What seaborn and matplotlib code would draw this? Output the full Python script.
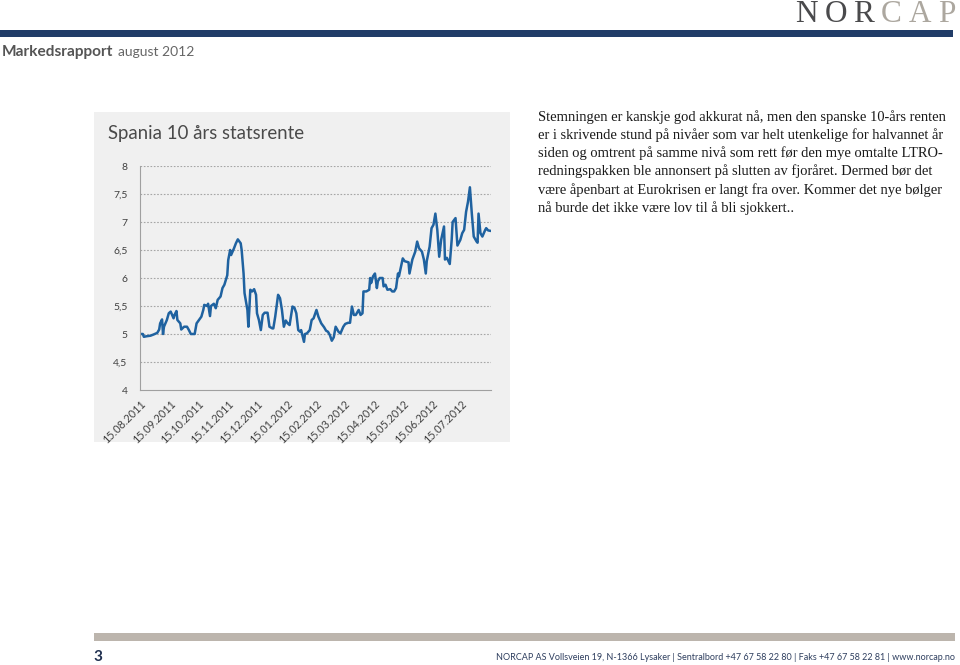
import matplotlib
matplotlib.use("Agg")
import matplotlib.pyplot as plt
from matplotlib.patches import Rectangle
from matplotlib import font_manager
import pandas as pd
import seaborn as sns

# ---------------- data ----------------
dates = ["2011-08-15","2011-08-18","2011-08-19","2011-08-22","2011-08-26","2011-08-29","2011-09-02","2011-09-04","2011-09-05","2011-09-07",
"2011-09-08","2011-09-09","2011-09-12","2011-09-14","2011-09-16","2011-09-19","2011-09-20","2011-09-22","2011-09-23","2011-09-26",
"2011-09-27","2011-09-30","2011-10-03","2011-10-05","2011-10-07","2011-10-11","2011-10-13","2011-10-16","2011-10-18","2011-10-20",
"2011-10-21","2011-10-24","2011-10-25","2011-10-27","2011-10-28","2011-10-31","2011-11-02","2011-11-04","2011-11-07","2011-11-09",
"2011-11-11","2011-11-14","2011-11-15","2011-11-17","2011-11-18","2011-11-21","2011-11-23","2011-11-25","2011-11-28","2011-11-29",
"2011-12-01","2011-12-02","2011-12-05","2011-12-06","2011-12-07","2011-12-08","2011-12-10","2011-12-12","2011-12-14","2011-12-15",
"2011-12-17","2011-12-19","2011-12-21","2011-12-23","2011-12-26","2011-12-28","2011-12-31","2012-01-01","2012-01-03","2012-01-06",
"2012-01-08","2012-01-10","2012-01-12","2012-01-14","2012-01-16","2012-01-18","2012-01-21","2012-01-23","2012-01-25","2012-01-27",
"2012-01-29","2012-01-30","2012-02-02","2012-02-03","2012-02-05","2012-02-08","2012-02-10","2012-02-12","2012-02-15","2012-02-17",
"2012-02-20","2012-02-23","2012-02-25","2012-02-27","2012-02-29","2012-03-02","2012-03-04","2012-03-06","2012-03-09","2012-03-11",
"2012-03-14","2012-03-16","2012-03-19","2012-03-21","2012-03-23","2012-03-25","2012-03-27","2012-03-30","2012-04-01","2012-04-03",
"2012-04-04","2012-04-07","2012-04-10","2012-04-11","2012-04-12","2012-04-14","2012-04-16","2012-04-18","2012-04-19","2012-04-21",
"2012-04-24","2012-04-25","2012-04-27","2012-04-29","2012-05-02","2012-05-04","2012-05-06","2012-05-08","2012-05-10","2012-05-11",
"2012-05-15","2012-05-17","2012-05-21","2012-05-22","2012-05-25","2012-05-28","2012-05-30","2012-06-01","2012-06-04","2012-06-06",
"2012-06-08","2012-06-09","2012-06-12","2012-06-14","2012-06-16","2012-06-18","2012-06-20","2012-06-22","2012-06-24","2012-06-27",
"2012-06-28","2012-06-30","2012-07-03","2012-07-05","2012-07-06","2012-07-09","2012-07-11","2012-07-14","2012-07-16","2012-07-18",
"2012-07-20","2012-07-22","2012-07-24","2012-07-26","2012-07-28","2012-07-31","2012-08-01","2012-08-02","2012-08-04","2012-08-06",
"2012-08-09","2012-08-10","2012-08-12","2012-08-15"]

rente = [5.00,5.00,4.95,4.96,4.97,4.99,5.02,5.08,5.19,5.26,
5.00,5.13,5.25,5.37,5.40,5.28,5.34,5.41,5.25,5.19,
5.08,5.13,5.13,5.07,5.00,5.00,5.19,5.26,5.31,5.43,
5.52,5.50,5.54,5.32,5.50,5.54,5.46,5.61,5.67,5.82,
5.88,6.05,6.32,6.50,6.41,6.53,6.62,6.69,6.62,6.50,
6.08,5.73,5.43,5.13,5.43,5.79,5.76,5.80,5.70,5.37,
5.25,5.07,5.34,5.38,5.38,5.13,5.10,5.10,5.31,5.70,
5.64,5.43,5.13,5.24,5.19,5.16,5.49,5.47,5.37,5.07,
5.04,5.07,4.86,5.00,5.01,5.07,5.25,5.28,5.43,5.31,
5.19,5.12,5.06,5.04,4.98,4.88,4.94,5.13,5.04,5.01,
5.13,5.18,5.20,5.20,5.49,5.34,5.34,5.43,5.34,5.37,
5.76,5.76,5.79,6.00,5.91,6.03,6.08,5.82,5.94,6.00,
6.00,5.85,5.88,5.79,5.80,5.76,5.76,5.82,6.08,6.03,
6.35,6.30,6.28,6.08,6.33,6.47,6.65,6.53,6.47,6.33,
6.08,6.30,6.56,6.89,6.95,7.15,6.86,6.38,6.68,6.92,
6.33,6.36,6.25,6.68,7.00,7.07,6.58,6.68,6.80,6.86,
7.18,7.36,7.62,7.15,6.74,6.65,6.63,7.15,6.80,6.74,
6.86,6.89,6.85,6.84]

tick_dates = ["2011-08-15","2011-09-15","2011-10-15","2011-11-15","2011-12-15","2012-01-15",
              "2012-02-15","2012-03-15","2012-04-15","2012-05-15","2012-06-15","2012-07-15","2012-08-15"]
tick_labels = ["15.08.2011","15.09.2011","15.10.2011","15.11.2011","15.12.2011","15.01.2012",
               "15.02.2012","15.03.2012","15.04.2012","15.05.2012","15.06.2012","15.07.2012",""]
y_ticks = [4, 4.5, 5, 5.5, 6, 6.5, 7, 7.5, 8]
y_labels = ["4", "4,5", "5", "5,5", "6", "6,5", "7", "7,5", "8"]

title = "Spania 10 års statsrente"
paragraph = [
    "Stemningen er kanskje god akkurat nå, men den spanske 10-års renten",
    "er i skrivende stund på nivåer som var helt utenkelige for halvannet år",
    "siden og omtrent på samme nivå som rett før den mye omtalte LTRO-",
    "redningspakken ble annonsert på slutten av fjoråret. Dermed bør det",
    "være åpenbart at Eurokrisen er langt fra over. Kommer det nye bølger",
    "nå burde det ikke være lov til å bli sjokkert..",
]
footer = "NORCAP AS Vollsveien 19, N-1366 Lysaker | Sentralbord +47 67 58 22 80 | Faks +47 67 58 22 81 | www.norcap.no"

assert len(dates) == len(rente)
df = pd.DataFrame({"dato": pd.to_datetime(dates), "rente": rente})

# ---------------- figure ----------------
sns.set_style("white")
plt.rcParams["font.family"] = ["Lato", "DejaVu Sans"]

installed = {f.name for f in font_manager.fontManager.ttflist}
narrow = ["Liberation Sans Narrow", "Lato"] if "Liberation Sans Narrow" in installed else ["Lato", "DejaVu Sans"]
serif = ["Liberation Serif", "DejaVu Serif"]

W, H = 960, 665
fig = plt.figure(figsize=(W / 100, H / 100), dpi=100)
fig.patch.set_facecolor("white")
renderer = fig.canvas.get_renderer()

def fx(x):
    return x / W

def fy(y):
    return 1 - y / H

def rect(x0, y0, x1, y1, color):
    fig.add_artist(Rectangle((fx(x0), fy(y1)), fx(x1) - fx(x0), fy(y0) - fy(y1),
                             transform=fig.transFigure, facecolor=color, edgecolor="none", zorder=0))

def fit(t, width):
    """Rescale a text so its rendered width equals `width` pixels."""
    w = t.get_window_extent(renderer).width
    t.set_fontsize(t.get_fontsize() * width / w)
    return t

def width_of(t):
    return t.get_window_extent(renderer).width

# header logo: letters spread over x 795..955, caps ~21 px tall
logo_letters = [("N", "#4a4a4c"), ("O", "#4a4a4c"), ("R", "#4a4a4c"),
                ("C", "#aca79f"), ("A", "#aca79f"), ("P", "#aca79f")]
logo_texts = [fig.text(0, fy(22), ch, family=serif, fontsize=22.5, color=c,
                       va="baseline", ha="left") for ch, c in logo_letters]
widths = [width_of(t) for t in logo_texts]
gap = (160 - sum(widths)) / (len(widths) - 1)
xpos = 795
for t, w in zip(logo_texts, widths):
    t.set_x(fx(xpos))
    xpos += w + gap

rect(0, 30, 953, 37, "#213c68")
t_m = fig.text(fx(2), fy(52), "Markedsrapport", fontsize=10.5, fontweight="bold", color="#555555",
               va="center", ha="left", family=narrow)
fit(t_m, 112)
t_a = fig.text(fx(118), fy(52), "august 2012", fontsize=10.5, color="#666666", va="center",
               ha="left", family=narrow)
fit(t_a, 77)

# chart panel
rect(94, 112, 510, 442, "#f0f0f0")
t_title = fig.text(fx(108), fy(134), title, fontsize=14.5, color="#4a4a4a", va="center", ha="left")
fit(t_title, 195)

ax = fig.add_axes([fx(140), fy(390), fx(491) - fx(140), fy(166) - fy(390)])
ax.set_facecolor("none")
sns.lineplot(data=df, x="dato", y="rente", ax=ax, color="#1f62a0", linewidth=1.8)

ax.set_xlim(pd.Timestamp("2011-08-15"), pd.Timestamp("2012-08-15"))
ax.set_ylim(4, 8)
ax.set_yticks(y_ticks)
ax.set_yticklabels(y_labels)
ax.set_xticks(pd.to_datetime(tick_dates))
ax.set_xticklabels(tick_labels, rotation=45, ha="right", rotation_mode="anchor")
ax.set_xlabel("")
ax.set_ylabel("")
for v in y_ticks[1:]:
    ax.axhline(v, color="#a6a6a6", linewidth=0.8, linestyle=(0, (1.5, 1.5)), zorder=0)
for s in ["top", "right"]:
    ax.spines[s].set_visible(False)
for s in ["left", "bottom"]:
    ax.spines[s].set_color("#a0a0a0")
    ax.spines[s].set_linewidth(0.8)
ax.tick_params(axis="x", direction="out", length=3, width=0.8, color="#a0a0a0",
               labelsize=7.8, labelcolor="#404040", pad=3)
ax.tick_params(axis="y", length=0, labelsize=7.5, labelcolor="#404040", pad=9)
ax.grid(False)

# paragraph
for i, line in enumerate(paragraph):
    t = fig.text(fx(538), fy(117 + i * 18.2), line, family=serif,
                 fontsize=10.45, color="#1a1a1a", va="center", ha="left")
    if i == 0:
        fit(t, 408)
        para_size = t.get_fontsize()
    else:
        t.set_fontsize(para_size)

# footer
rect(94, 633, 955, 641, "#bcb5ad")
fig.text(fx(93), fy(657), "3", fontsize=11, fontweight="bold", color="#1f2f4f",
         va="center", ha="left")
t_f = fig.text(fx(955), fy(657), footer, fontsize=7.6, color="#2f3f5f", va="center", ha="right",
               family=narrow)
fit(t_f, 462)

fig.savefig("out.png", dpi=100)
